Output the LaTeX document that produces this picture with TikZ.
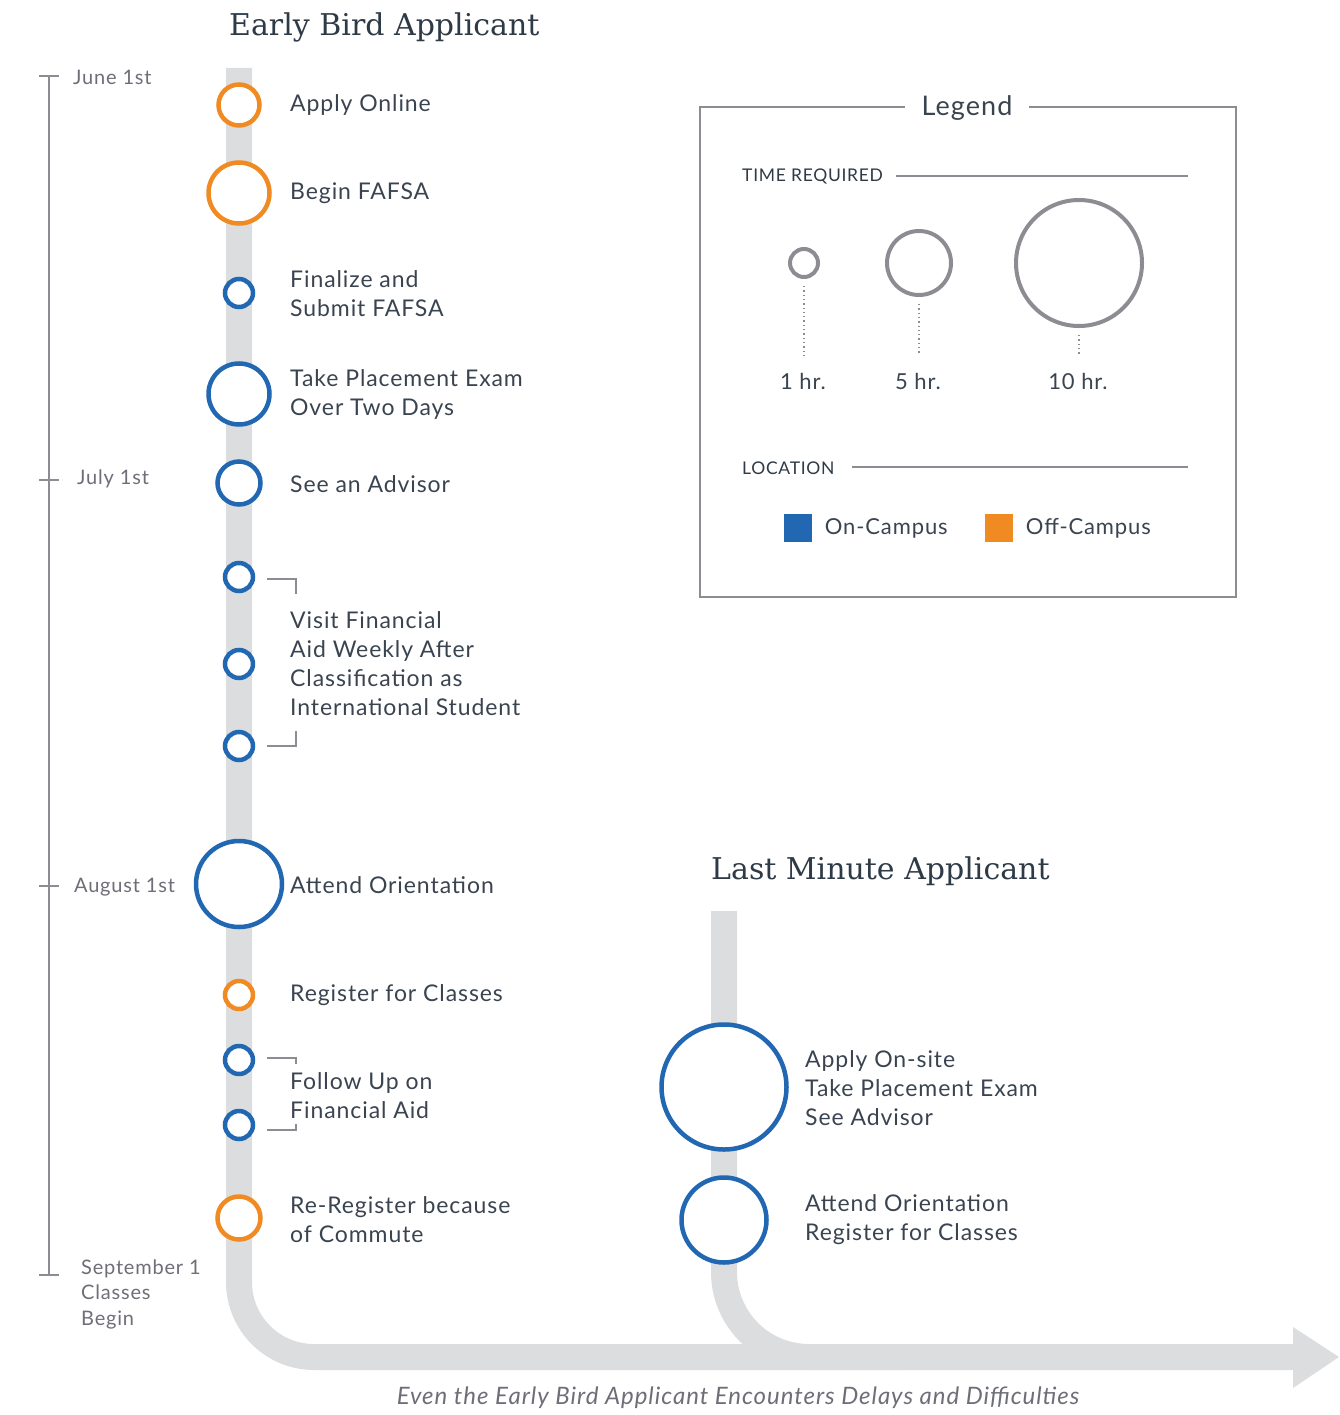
\documentclass[tikz,border=0pt]{standalone}
\usepackage{fontspec}
\setmainfont{Lato}[LetterSpace=4]
\newfontfamily\slabfont{DejaVu Serif}
\usetikzlibrary{positioning}
\definecolor{bandgray}{HTML}{DCDDDF}
\definecolor{campusblue}{HTML}{2167B1}
\definecolor{offorange}{HTML}{F08B23}
\definecolor{inkgray}{HTML}{3A4450}
\definecolor{titleink}{HTML}{2E3A46}
\definecolor{softgray}{HTML}{6E6E78}
\definecolor{rulegray}{HTML}{8C8C93}
\tikzset{
  band/.style     = {bandgray, line width=26pt},
  onstep/.style   = {circle, draw=campusblue, fill=white, line width=4.5pt, inner sep=0pt, minimum size=#1},
  offstep/.style  = {circle, draw=offorange, fill=white, line width=4.5pt, inner sep=0pt, minimum size=#1},
  sizering/.style = {circle, draw=rulegray, line width=4pt, inner sep=0pt, minimum size=#1},
  steptext/.style = {anchor=west, align=left, inner sep=0pt, text=inkgray, font=\fontsize{23}{29}\selectfont},
  legendtext/.style = {inner sep=0pt, text=inkgray, font=\fontsize{22}{26}\selectfont},
  monthtext/.style= {anchor=west, align=left, inner sep=0pt, text=softgray, font=\fontsize{20}{25.5}\selectfont},
  heading/.style  = {anchor=west, inner sep=0pt, text=titleink, font=\slabfont\fontsize{30}{34}\selectfont},
  capstext/.style = {anchor=west, inner sep=0pt, text=titleink, font=\fontsize{17.5}{20}\selectfont},
  axis/.style     = {rulegray, line width=1.5pt},
  bracket/.style  = {rulegray, line width=1.5pt},
  dotline/.style  = {rulegray, line width=1.3pt, dash pattern=on 1.3pt off 3pt},
  swatch/.style   = {rectangle, inner sep=0pt, minimum size=28pt},
}

\begin{document}
\begin{tikzpicture}[x=1pt,y=-1pt]
  \useasboundingbox (0,0) rectangle (1339,1415);

  % tracks
  \draw[band, rounded corners=75pt] (239,68) -- (239,1357) -- (1294,1357);
  \draw[band, rounded corners=85pt] (724,911) -- (724,1357) -- (900,1357);
  \fill[bandgray] (1293,1327) -- (1339,1357) -- (1293,1388) -- cycle;

  % months
  \draw[axis] (49,76) -- (49,1275);
  \foreach \y in {76,480,886,1275}
    \draw[axis] (39,\y) -- (59,\y);
  \node[monthtext] (m1) at (73,77) {June 1st};
  \node[monthtext] (m2) at (77,479) {July 1st};
  \node[monthtext] (m3) at (74,887) {August 1st};
  \node[monthtext] (m4) at (81,1294) {September 1\\Classes\\Begin};

  % early bird
  \node[heading] (eb) at (229,27) {Early Bird Applicant};
  \node[offstep=41pt] (e1) at (239,105) {};
  \node[offstep=61pt] (e2) at (239,193) {};
  \node[onstep=28pt] (e3) at (239,293) {};
  \node[onstep=61pt] (e4) at (239,394) {};
  \node[onstep=43pt] (e5) at (239,483) {};
  \node[onstep=28pt] (e6) at (239,577) {};
  \node[onstep=28pt] (e7) at (239,664) {};
  \node[onstep=28pt] (e8) at (239,746) {};
  \node[onstep=86pt] (e9) at (239,884) {};
  \node[offstep=28pt] (e10) at (239,995) {};
  \node[onstep=28pt] (e11) at (239,1060) {};
  \node[onstep=28pt] (e12) at (239,1125) {};
  \node[offstep=43pt] (e13) at (239,1218) {};

  \node[steptext] (t1) at (290,105) {Apply Online};
  \node[steptext] (t2) at (290,193) {Begin FAFSA};
  \node[steptext] (t3) at (290,293.5) {Finalize and\\Submit FAFSA};
  \node[steptext] (t4) at (290,394.5) {Take Placement Exam\\Over Two Days};
  \node[steptext] (t5) at (290,484) {See an Advisor};
  \node[steptext] (t6) at (290,663.5) {Visit Financial\\Aid Weekly After\\Classification as\\International Student};
  \node[steptext] (t9) at (290,885) {Attend Orientation};
  \node[steptext] (t10) at (290,995) {Register for Classes};
  \node[steptext] (t11) at (290,1095.5) {Follow Up on\\Financial Aid};
  \node[steptext] (t13) at (290,1219.5) {Re-Register because\\of Commute};

  \draw[bracket] (267,579) -| (296,594);
  \draw[bracket] (267,746) -| (296,731);
  \draw[bracket] (267,1058) -| (296,1064);
  \draw[bracket] (267,1130) -| (296,1124);

  % legend
  \draw[rulegray, line width=2pt] (905,107) -| (700,597) -| (1236,107) -- (1029,107);
  \node[legendtext, font=\fontsize{27}{30}\selectfont] (leg) at (967,108) {Legend};
  \node[capstext] (tr) at (742,176) {TIME REQUIRED};
  \draw[axis] (896,176) -- (1188,176);
  \node[sizering=28pt] (h1) at (804,263) {};
  \node[sizering=64pt] (h5) at (919,263) {};
  \node[sizering=126pt] (h10) at (1079,263) {};
  \draw[dotline] ([yshift=-7pt]h1.south) -- (804,355);
  \draw[dotline] ([yshift=-7pt]h5.south) -- (919,355);
  \draw[dotline] ([yshift=-7pt]h10.south) -- (1079,355);
  \node[legendtext] at (803,381) {1 hr.};
  \node[legendtext] at (918,381) {5 hr.};
  \node[legendtext] at (1078,381) {10 hr.};
  \node[capstext] (loc) at (742,468) {LOCATION};
  \draw[axis] (852,467) -- (1188,467);
  \node[swatch, fill=campusblue] (sq1) at (797.5,528) {};
  \node[legendtext, right=13pt of sq1] {On-Campus};
  \node[swatch, fill=offorange] (sq2) at (998.5,528) {};
  \node[legendtext, right=13pt of sq2] {Off-Campus};

  % last minute
  \node[heading] (lm) at (711,871) {Last Minute Applicant};
  \node[onstep=125pt] (l1) at (724,1087) {};
  \node[onstep=85pt] (l2) at (724,1220) {};
  \node[steptext] (u1) at (805,1088) {Apply On-site\\Take Placement Exam\\See Advisor};
  \node[steptext] (u2) at (805,1219.5) {Attend Orientation\\Register for Classes};

  \node[inner sep=0pt, text=softgray, font=\itshape\fontsize{24}{28}\selectfont] (cap) at (738,1398)
    {Even the Early Bird Applicant Encounters Delays and Difficulties};
\end{tikzpicture}
\end{document}
